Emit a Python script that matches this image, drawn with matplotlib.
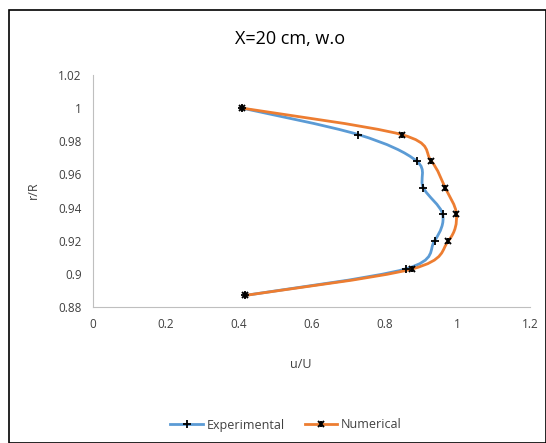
import matplotlib.pyplot as plt
from matplotlib.path import Path
from matplotlib.patches import PathPatch, Rectangle
from matplotlib.lines import Line2D

plt.rcParams['font.family'] = ['Open Sans', 'DejaVu Sans']

# data
expU = [0.41, 0.729, 0.889, 0.907, 0.960, 0.938, 0.859, 0.418]
expR = [1.000, 0.984, 0.968, 0.952, 0.936, 0.920, 0.903, 0.887]
numU = [0.41, 0.848, 0.929, 0.967, 0.998, 0.976, 0.877, 0.418]
numR = [1.000, 0.984, 0.968, 0.952, 0.936, 0.920, 0.903, 0.887]

xTicks = [0, 0.2, 0.4, 0.6, 0.8, 1, 1.2]
yTicks = [0.88, 0.9, 0.92, 0.94, 0.96, 0.98, 1, 1.02]

blue = '#5B9BD5'
orange = '#ED7D31'


def smoothPath(xs, ys):
    # excel-like smoothed line: catmull-rom turned into bezier segments
    pts = list(zip(xs, ys))
    verts = [pts[0]]
    codes = [Path.MOVETO]
    n = len(pts)
    for i in range(n - 1):
        p0 = pts[i - 1] if i > 0 else pts[i]
        p1 = pts[i]
        p2 = pts[i + 1]
        p3 = pts[i + 2] if i + 2 < n else pts[i + 1]
        c1 = (p1[0] + (p2[0] - p0[0]) / 6.0, p1[1] + (p2[1] - p0[1]) / 6.0)
        c2 = (p2[0] - (p3[0] - p1[0]) / 6.0, p2[1] - (p3[1] - p1[1]) / 6.0)
        verts += [c1, c2, p2]
        codes += [Path.CURVE4] * 3
    return Path(verts, codes)


W, H = 546, 443
fig = plt.figure(figsize=(W / 100.0, H / 100.0), dpi=100, facecolor='white')
ax = fig.add_axes([93.0 / W, 1 - 307.0 / H, (530.0 - 93) / W, (307.0 - 75) / H])

ax.add_patch(PathPatch(smoothPath(expU, expR), fc='none', ec=blue, lw=2, zorder=2))
ax.add_patch(PathPatch(smoothPath(numU, numR), fc='none', ec=orange, lw=2, zorder=2))
ax.plot(expU, expR, ls='none', marker='+', ms=6, mew=1.3, color='black', zorder=3)
ax.plot(numU, numR, ls='none', marker='x', ms=5, mew=1.4, color='black', zorder=3)
ax.plot(numU, numR, ls='none', marker='|', ms=5, mew=1.4, color='black', zorder=3)

ax.set_xlim(0, 1.2)
ax.set_ylim(0.88, 1.02)
ax.set_xticks(xTicks)
ax.set_xticklabels(['0', '0.2', '0.4', '0.6', '0.8', '1', '1.2'])
ax.set_yticks(yTicks)
ax.set_yticklabels(['0.88', '0.9', '0.92', '0.94', '0.96', '0.98', '1', '1.02'])
ax.tick_params(length=0, labelsize=8.5, colors='#404040', pad=8)
for s in ['top', 'right']:
    ax.spines[s].set_visible(False)
for s in ['left', 'bottom']:
    ax.spines[s].set_color('#BFBFBF')
    ax.spines[s].set_linewidth(0.8)

fig.text(290.0 / W, 1 - 39.0 / H, 'X=20 cm, w.o', ha='center', va='center', fontsize=13, color='black')
fig.text(301.0 / W, 1 - 365.0 / H, 'u/U', ha='center', va='center', fontsize=9, color='#404040')
fig.text(33.0 / W, 1 - 190.0 / H, 'r/R', ha='center', va='center', fontsize=9, color='#404040', rotation=90)

expHandle = Line2D([], [], color=blue, lw=2, marker='+', ms=6, mew=1.3, mec='black')
numHandle = (Line2D([], [], color=orange, lw=2, marker='x', ms=5, mew=1.4, mec='black'),
             Line2D([], [], ls='none', marker='|', ms=5, mew=1.4, color='black'))
fig.legend([expHandle, numHandle], ['Experimental', 'Numerical'], loc='center',
           bbox_to_anchor=(286.0 / W, 1 - 425.0 / H), ncol=2, frameon=False, fontsize=9,
           handlelength=2.6, handletextpad=0.3, columnspacing=1.6, labelcolor='#404040')

fig.add_artist(Rectangle((9.0 / W, 0.0), 1 - 9.0 / W, 1 - 10.0 / H, transform=fig.transFigure,
                         fill=False, ec='black', lw=1.2))

fig.savefig('out.png', dpi=100, facecolor='white')
